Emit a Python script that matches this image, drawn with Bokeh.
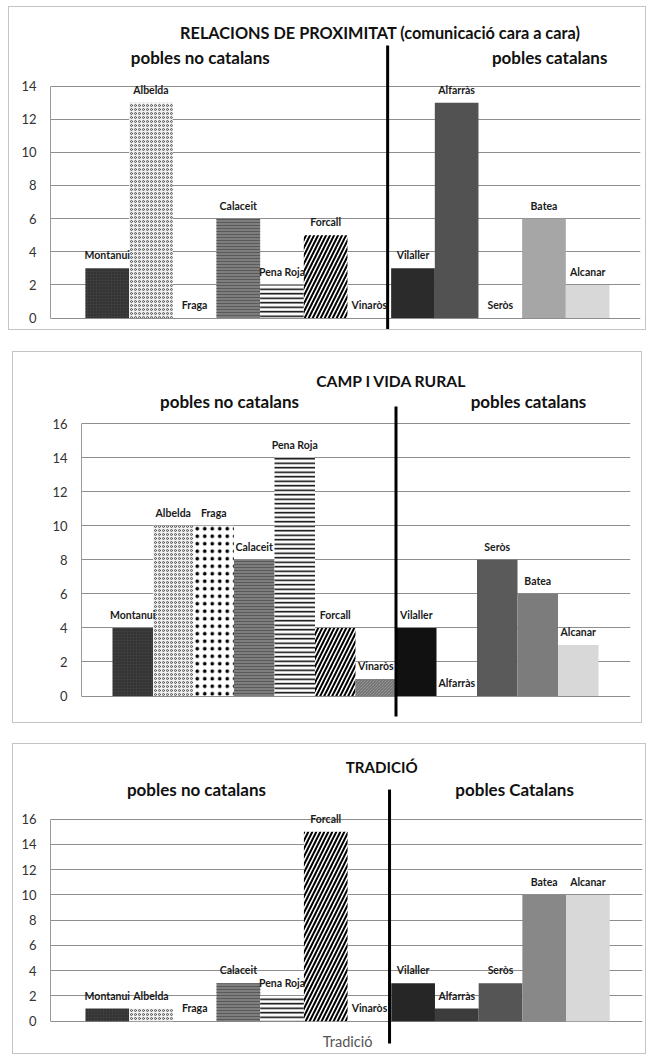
import numpy as np
from bokeh.plotting import figure
from bokeh.models import Range1d, FixedTicker, Label, ColumnDataSource
from bokeh.embed import file_html
from bokeh.resources import INLINE
from bokeh.core.properties import value

# ---------------- data ----------------
towns = ["Montanui", "Albelda", "Fraga", "Calaceit", "Pena Roja", "Forcall", "Vinaròs",
         "Vilaller", "Alfarràs", "Seròs", "Batea", "Alcanar"]
prox_values = [3, 13, 0, 6, 2, 5, 0, 3, 13, 0, 6, 2]
camp_values = [4, 10, 10, 8, 14, 4, 1, 4, 0, 8, 6, 3]
trad_values = [1, 1, 0, 3, 2, 15, 0, 3, 1, 3, 10, 10]
prox_ticks = [0, 2, 4, 6, 8, 10, 12, 14]
camp_ticks = [0, 2, 4, 6, 8, 10, 12, 14, 16]
trad_ticks = [0, 2, 4, 6, 8, 10, 12, 14, 16]
prox_title = "RELACIONS DE PROXIMITAT (comunicació cara a cara)"
camp_title = "CAMP I VIDA RURAL"
trad_title = "TRADICIÓ"
group_left = "pobles no catalans"
group_right = ["pobles catalans", "pobles catalans", "pobles  Catalans"]
trad_category = "Tradició"

# ---------------- styles ----------------
FONT = "Lato"
base_style = {
    "fill": ["#3d3d3d", "#f2f2f2", "#ffffff", "#7e7e7e", "#ffffff", "#ffffff", "#a8a8a8",
             "#2b2b2b", "#525252", "#5a5a5a", "#a6a6a6", "#d8d8d8"],
    "pat": ["dot", "ring", "dot", "horizontal_line", "horizontal_line", "right_diagonal_line",
            "left_diagonal_line", " ", " ", " ", " ", " "],
    "hcol": ["#222222", "#555555", "#000000", "#5a5a5a", "#000000", "#000000", "#666666",
             "#000", "#000", "#000", "#000", "#000"],
    "hscale": [3, 4, 7.5, 3, 4.5, 8, 3, 1, 1, 1, 1, 1],
    "hweight": [1, 1, 1, 1, 1.5, 2, 1, 1, 1, 1, 1, 1],
}


def make_panel(vals, ticks, title, right_txt, width, height, borders, xr, yr, line_y,
               title_pos, title_size, left_pos, right_pos, span_x, fills=None,
               margin=(0, 0, 0, 0), cat_label=None):
    p = figure(width=width, height=height, output_backend="svg", toolbar_location=None,
               x_range=Range1d(*xr), y_range=Range1d(*yr), x_axis_location=None,
               min_border_left=borders[0], min_border_right=borders[1],
               min_border_top=0, min_border_bottom=0,
               background_fill_color="white", border_fill_color="white")
    p.outline_line_color = None
    p.margin = margin
    p.styles = {"border": "1px solid #c4c4c4"}

    n = len(towns)
    st = dict(base_style)
    if fills:
        st["fill"] = [fills.get(i, c) for i, c in enumerate(st["fill"])]
    src = ColumnDataSource(dict(x=np.arange(n) + 0.5, top=vals, name=towns,
                                fill=st["fill"], pat=st["pat"], hcol=st["hcol"],
                                hscale=st["hscale"], hweight=st["hweight"]))

    p.ygrid.ticker = FixedTicker(ticks=ticks)
    p.ygrid.grid_line_color = "#8e8e8e"
    p.ygrid.grid_line_width = 1.2
    p.xgrid.visible = False

    p.yaxis.ticker = FixedTicker(ticks=ticks)
    p.yaxis.bounds = (0, max(ticks))
    p.yaxis.axis_line_color = "#9a9a9a"
    p.yaxis.major_tick_line_color = None
    p.yaxis.major_tick_out = 0
    p.yaxis.major_tick_in = 0
    p.yaxis.minor_tick_line_color = None
    p.yaxis.major_label_text_font = FONT
    p.yaxis.major_label_text_font_size = "13px"
    p.yaxis.major_label_text_color = "#333333"
    p.yaxis.major_label_standoff = 14

    p.vbar(x="x", top="top", width=1.0, source=src, fill_color="fill", line_color=None,
           hatch_pattern="pat", hatch_color="hcol", hatch_scale="hscale",
           hatch_weight="hweight")
    p.text(x="x", y="top", text="name", source=src, text_align="center",
           text_baseline="middle", y_offset=-13, text_font=value(FONT),
           text_font_style="bold", text_font_size="10.5px", text_color="#1a1a1a")

    # separator between the two groups of towns
    p.segment(x0=[span_x], y0=[line_y[0]], x1=[span_x], y1=[line_y[1]],
              line_color="black", line_width=3)

    p.add_layout(Label(x=title_pos[0], y=title_pos[1], text=title, text_align="center",
                       text_baseline="middle", text_font=FONT, text_font_style="bold",
                       text_font_size=title_size, text_color="#111111"))
    p.add_layout(Label(x=left_pos[0], y=left_pos[1], text=group_left, text_align="center",
                       text_baseline="middle", text_font=FONT, text_font_style="bold",
                       text_font_size="17px", text_color="#111111"))
    p.add_layout(Label(x=right_pos[0], y=right_pos[1], text=right_txt, text_align="center",
                       text_baseline="middle", text_font=FONT, text_font_style="bold",
                       text_font_size="17px", text_color="#111111"))
    if cat_label:
        p.add_layout(Label(x=cat_label[0], y=cat_label[1], text=trad_category,
                           text_align="center", text_baseline="middle", text_font=FONT,
                           text_font_size="14.5px", text_color="#555555"))
    return p


p1 = make_panel(prox_values, prox_ticks, prox_title, group_right[0],
                width=638, height=324, borders=(41, 7),
                xr=(-0.80, 12.71), yr=(-0.81, 18.74), line_y=(-0.75, 16.45),
                title_pos=(6.75, 17.23), title_size="16.3px",
                left_pos=(2.63, 15.72), right_pos=(10.63, 15.72),
                span_x=6.92, margin=(6, 0, 0, 8))
p2 = make_panel(camp_values, camp_ticks, camp_title, group_right[1],
                width=630, height=372, borders=(68, 13),
                xr=(-0.765, 12.79), yr=(-1.67, 20.17), line_y=(-1.20, 17.0),
                title_pos=(6.89, 18.52), title_size="15.7px",
                left_pos=(2.89, 17.29), right_pos=(10.27, 17.29),
                span_x=7.0, fills={7: "#111111", 9: "#5a5a5a", 10: "#7c7c7c"},
                margin=(21, 0, 0, 12))
p3 = make_panel(trad_values, trad_ticks, trad_title, group_right[2],
                width=634, height=311, borders=(37, 5),
                xr=(-0.80, 12.75), yr=(-2.72, 21.92), line_y=(-1.77, 18.35),
                title_pos=(6.78, 20.10), title_size="15.1px",
                left_pos=(2.54, 18.35), right_pos=(9.87, 18.35),
                span_x=6.96, fills={7: "#262626", 8: "#3c3c3c", 9: "#555555", 10: "#888888"},
                margin=(20, 0, 0, 12), cat_label=(6.0, -1.61))

open("out.html", "w").write(file_html([p1, p2, p3], INLINE))
